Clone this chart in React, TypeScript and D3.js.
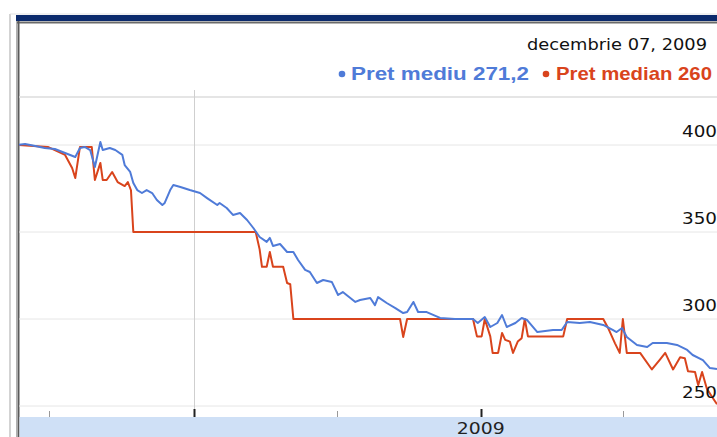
import React from "react";
import * as d3 from "d3";

// ---------- data ----------
const meanDates = [
  "2007-05-22","2007-05-31","2007-06-13","2007-06-25","2007-07-08","2007-07-21","2007-08-03","2007-08-09","2007-08-15","2007-08-22",
  "2007-08-28","2007-09-04","2007-09-07","2007-09-16","2007-09-23","2007-10-02","2007-10-05","2007-10-12","2007-10-16","2007-10-21",
  "2007-10-27","2007-11-02","2007-11-09","2007-11-15","2007-11-22","2007-11-25","2007-12-02","2007-12-06","2007-12-15","2007-12-27",
  "2008-01-09","2008-01-18","2008-01-31","2008-02-03","2008-02-12","2008-02-20","2008-02-29","2008-03-09","2008-03-17","2008-03-25",
  "2008-04-03","2008-04-07","2008-04-11","2008-04-20","2008-04-29","2008-05-07","2008-05-13","2008-05-22","2008-05-28","2008-06-06",
  "2008-06-14","2008-06-25","2008-07-03","2008-07-09","2008-07-25","2008-07-31","2008-08-13","2008-08-19","2008-08-23","2008-09-03",
  "2008-09-14","2008-09-24","2008-09-29","2008-10-07","2008-10-13","2008-10-24","2008-11-10","2008-11-29","2008-12-22","2008-12-28",
  "2009-01-06","2009-01-13","2009-01-22","2009-01-28","2009-02-03","2009-02-14","2009-02-22","2009-03-01","2009-03-14","2009-04-03",
  "2009-04-14","2009-04-21","2009-05-07","2009-05-20","2009-06-06","2009-06-18","2009-06-23","2009-06-30","2009-07-06","2009-07-19",
  "2009-08-01","2009-08-08","2009-08-26","2009-09-08","2009-09-21","2009-09-28","2009-10-11","2009-10-20","2009-10-29",
];
const meanValues = [
  400.0,400.6,399.4,398.3,397.7,395.4,393.1,398.3,398.9,397.1,
  387.4,401.7,397.1,398.3,397.1,394.3,388.5,384.5,378.2,374.1,
  372.4,374.1,372.4,368.4,365.5,366.7,374.1,377.0,375.9,374.1,
  372.4,369.5,365.5,366.7,363.8,359.8,360.9,356.9,352.3,347.1,
  344.3,346.6,342.0,343.1,338.5,338.5,333.9,328.2,327.0,320.7,
  322.4,321.3,313.8,315.5,309.8,310.9,312.1,308.0,312.6,309.2,
  306.3,303.4,304.0,309.8,304.0,304.0,300.6,300.0,300.0,297.7,
  301.1,295.4,297.7,302.3,295.4,297.7,300.6,299.4,292.5,293.7,
  293.7,298.3,297.7,298.3,296.6,293.7,292.5,294.8,289.7,285.1,
  283.9,286.2,286.2,285.1,282.2,279.3,276.4,271.8,271.2,
];

const medianDates = [
  "2007-05-22","2007-06-29","2007-07-21","2007-07-30","2007-08-03","2007-08-09","2007-08-24","2007-08-28","2007-09-04","2007-09-07",
  "2007-09-12","2007-09-19","2007-09-26","2007-10-05","2007-10-09","2007-10-13","2007-10-16","2008-03-20","2008-03-25","2008-03-28",
  "2008-04-03","2008-04-07","2008-04-11","2008-04-24","2008-04-29","2008-05-03","2008-05-07","2008-09-20","2008-09-24","2008-09-29",
  "2008-12-22","2008-12-27","2009-01-02","2009-01-06","2009-01-13","2009-01-16","2009-01-23","2009-01-28","2009-02-01","2009-02-07",
  "2009-02-11","2009-02-17","2009-02-22","2009-02-26","2009-03-02","2009-04-16","2009-04-21","2009-06-06","2009-06-12","2009-06-21",
  "2009-06-27","2009-07-01","2009-07-06","2009-07-23","2009-08-07","2009-08-17","2009-08-24","2009-09-03","2009-09-12","2009-09-18",
  "2009-09-22","2009-10-01","2009-10-05","2009-10-10","2009-10-16","2009-10-23","2009-10-29",
];
const medianValues = [
  400,398.9,394.3,386.8,381.0,398.9,398.9,379.9,389.7,379.9,
  379.9,384.5,378.7,376.4,378.7,374.0,350,350,340,330,
  330,338.5,330,330,320.7,320,300,300,289.7,300,
  300,290,290,300,290,280.5,280.5,292,288,287,
  280.5,287,289,300,290,290,300,300,295,286,
  280.5,300,280.5,280.5,271,276.5,280.5,271,278,277.5,
  270,269.5,262,269.5,260,255,251,
];

const domainStart = "2007-05-22";
const domainEnd = "2009-10-29";
const yTicks = [250, 300, 350, 400];
const yDomain = [250, 400];
const markerDates = ["2008-01-01"];
const yearLabelDates = ["2009-01-01"];
const yearLabelTexts = ["2009"];
const dateTitle = "decembrie 07, 2009";
const seriesNames = ["Pret mediu", "Pret median"];
const seriesLast = ["271,2", "260"];

const BLUE = "#4f7bd8";
const RED = "#d9441c";

export default function App() {
  const parse = d3.timeParse("%Y-%m-%d");
  const x = d3
    .scaleTime()
    .domain([parse(domainStart) as Date, parse(domainEnd) as Date])
    .range([18, 717]);
  const y = d3.scaleLinear().domain(yDomain).range([406, 145]);

  const mean = meanDates.map((d, i) => ({ date: parse(d) as Date, v: meanValues[i] }));
  const median = medianDates.map((d, i) => ({ date: parse(d) as Date, v: medianValues[i] }));

  const line = d3
    .line<{ date: Date; v: number }>()
    .x((d) => x(d.date))
    .y((d) => y(d.v));

  const tickDates = x.ticks(d3.timeMonth.every(6) as any);

  return (
    <svg
      width={717}
      height={437}
      style={{ position: "fixed", left: 0, top: 0, background: "#fff" }}
    >
      <defs>
        <clipPath id="plot">
          <rect x={19} y={98} width={698} height={318} />
        </clipPath>
      </defs>
      {/* outer frame */}
      <line x1={10} y1={14} x2={10} y2={437} stroke="#c4c4c4" strokeWidth={1.5} />
      <line x1={10} y1={14} x2={717} y2={14} stroke="#e2e2e2" strokeWidth={1} />
      <line x1={16.5} y1={15} x2={16.5} y2={437} stroke="#b0b0b0" strokeWidth={1} />
      <rect x={16} y={15} width={701} height={6} fill="#0b2a6c" />
      <line x1={17} y1={22.5} x2={717} y2={22.5} stroke="#6a6a6a" strokeWidth={2} />
      <line x1={18.5} y1={21} x2={18.5} y2={437} stroke="#5a5a5a" strokeWidth={2} />

      {/* header */}
      <text
        x={707}
        y={50}
        textAnchor="end"
        fontFamily="DejaVu Sans"
        fontSize={16.5}
        fill="#111"
        textLength={180}
        lengthAdjust="spacingAndGlyphs"
      >
        {dateTitle}
      </text>
      <g fontFamily="Liberation Sans" fontWeight="bold" fontSize={19}>
        <text
          x={712}
          y={80}
          textAnchor="end"
          fill={RED}
          textLength={156}
          lengthAdjust="spacingAndGlyphs"
        >
          {`${seriesNames[1]} ${seriesLast[1]}`}
        </text>
        <circle cx={546} cy={74} r={3.3} fill={RED} />
        <text
          x={529}
          y={80}
          textAnchor="end"
          fill={BLUE}
          textLength={178}
          lengthAdjust="spacingAndGlyphs"
        >
          {`${seriesNames[0]} ${seriesLast[0]}`}
        </text>
        <circle cx={342} cy={74} r={3.3} fill={BLUE} />
      </g>
      <line x1={19} y1={97} x2={717} y2={97} stroke="#dcdcdc" strokeWidth={1.5} />

      {/* grid */}
      {yTicks.map((t) => (
        <line key={t} x1={19} x2={717} y1={y(t)} y2={y(t)} stroke="#e6e6e6" strokeWidth={1} />
      ))}
      {markerDates.map((d) => (
        <line
          key={d}
          x1={Math.round(x(parse(d) as Date)) + 0.5}
          x2={Math.round(x(parse(d) as Date)) + 0.5}
          y1={90}
          y2={417}
          stroke="#cfcfcf"
          strokeWidth={1}
        />
      ))}

      {/* lines */}
      <g clipPath="url(#plot)" fill="none" strokeWidth={2} strokeLinejoin="round">
        <path d={line(median) || ""} stroke={RED} />
        <path d={line(mean) || ""} stroke={BLUE} />
      </g>

      {/* y labels */}
      {yTicks.map((t) => (
        <text
          key={t}
          x={717}
          y={y(t) - 8}
          textAnchor="end"
          fontFamily="DejaVu Sans"
          fontSize={15}
          fill="#111"
          textLength={35}
          lengthAdjust="spacingAndGlyphs"
        >
          {t}
        </text>
      ))}

      {/* bottom axis */}
      <rect x={19.5} y={417} width={697.5} height={20} fill="#cfe0f6" />
      {tickDates.map((d) => {
        const major = d.getMonth() === 0;
        const px = Math.round(x(d)) + 0.5;
        return (
          <line
            key={+d}
            x1={px}
            x2={px}
            y1={major ? 409 : 411}
            y2={417}
            stroke={major ? "#222" : "#999"}
            strokeWidth={major ? 2 : 1}
          />
        );
      })}
      {yearLabelDates.map((d, i) => (
        <text
          key={d}
          x={x(parse(d) as Date)}
          y={433.5}
          textAnchor="middle"
          fontFamily="DejaVu Sans"
          fontSize={15}
          fill="#222"
          textLength={48}
          lengthAdjust="spacingAndGlyphs"
        >
          {yearLabelTexts[i]}
        </text>
      ))}
    </svg>
  );
}
